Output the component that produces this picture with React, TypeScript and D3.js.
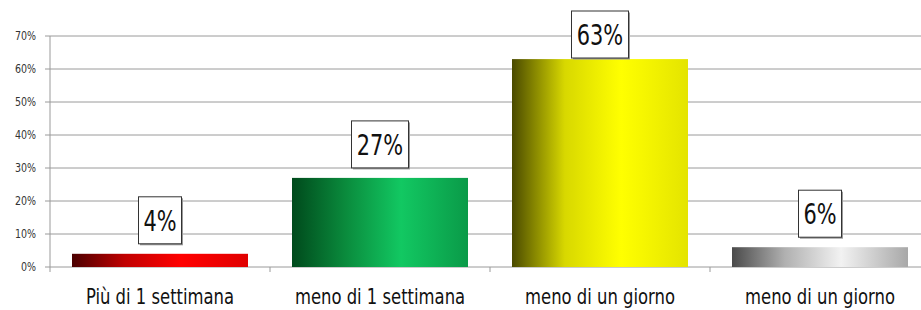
import * as d3 from "d3"
import React from "react"

const categories = ["Più di 1 settimana", "meno di 1 settimana", "meno di un giorno", "meno di un giorno"]
const values = [4, 27, 63, 6]
const labels = ["4%", "27%", "63%", "6%"]
const yTickValues = [0, 10, 20, 30, 40, 50, 60, 70]
const gradients = [
  ["#4a0000", "#c00000", "#ff0000", "#e00000"],
  ["#004a1c", "#0a8a3c", "#12c862", "#0a9a48"],
  ["#4a4a00", "#d8d800", "#ffff00", "#e4e400"],
  ["#4a4a4a", "#b0b0b0", "#f2f2f2", "#a8a8a8"],
]

const font = "'DejaVu Sans Condensed', 'DejaVu Sans', sans-serif"

export default () => {
  const W = 921
  const H = 310
  const xOff = 50
  const xEnd = 930
  const yTop = 36
  const yBase = 267
  const x = d3.scaleBand<number>().domain(d3.range(categories.length)).range([xOff, xEnd]).paddingInner(0.2).paddingOuter(0.1)
  const y = d3.scaleLinear().domain([0, 70]).range([yBase, yTop])
  const step = x.step()

  return (
    <svg width={W} height={H} style={{ position: "absolute", left: 0, top: 0, background: "#fff" }}>
      <defs>
        {gradients.map((g, i) => (
          <linearGradient key={i} id={`g${i}`} x1="0" x2="1" y1="0" y2="0">
            <stop offset="0" stopColor={g[0]} />
            <stop offset="0.3" stopColor={g[1]} />
            <stop offset="0.62" stopColor={g[2]} />
            <stop offset="1" stopColor={g[3]} />
          </linearGradient>
        ))}
      </defs>
      {yTickValues.map(t => (
        <g key={t}>
          {t > 0 && <line x1={xOff} x2={W} y1={y(t)} y2={y(t)} stroke="#9a9a9a" strokeWidth={1} />}
          <line x1={xOff - 5} x2={xOff} y1={y(t)} y2={y(t)} stroke="#9a9a9a" />
          <text transform={`translate(${xOff - 14},${y(t)}) scale(0.88,1)`} dy="0.35em" textAnchor="end" fontFamily={font} fontSize={12} fill="#333">{t}%</text>
        </g>
      ))}
      <line x1={xOff} x2={xOff} y1={yTop} y2={yBase} stroke="#9a9a9a" />
      <line x1={xOff} x2={W} y1={yBase} y2={yBase} stroke="#9a9a9a" />
      {d3.range(categories.length + 1).map(i => {
        const xx = xOff + i * step
        return <line key={i} x1={xx} x2={xx} y1={yBase} y2={yBase + 5} stroke="#9a9a9a" />
      })}
      {values.map((v, i) => (
        <rect key={i} x={x(i)} y={y(v)} width={x.bandwidth()} height={yBase - y(v)} fill={`url(#g${i})`} />
      ))}
      {values.map((v, i) => {
        const cx = (x(i) as number) + x.bandwidth() / 2
        const w = labels[i].length > 2 ? 57 : 43
        const h = 47
        const top = Math.max(y(v) - 10 - h, 11)
        return (
          <g key={i}>
            <rect x={cx - w / 2 + 1.5} y={top + 1.5} width={w} height={h} fill="#999" />
            <rect x={cx - w / 2} y={top} width={w} height={h} fill="#fff" stroke="#333" strokeWidth={1} />
            <text transform={`translate(${cx},${top + h / 2}) scale(0.8,1)`} dy="0.36em" textAnchor="middle" fontFamily={font} fontSize={29} fill="#111">{labels[i]}</text>
          </g>
        )
      })}
      {categories.map((c, i) => (
        <text key={i} transform={`translate(${(x(i) as number) + x.bandwidth() / 2},304) scale(0.83,1)`} textAnchor="middle" fontFamily={font} fontSize={22} fill="#111">{c}</text>
      ))}
    </svg>
  )
}
